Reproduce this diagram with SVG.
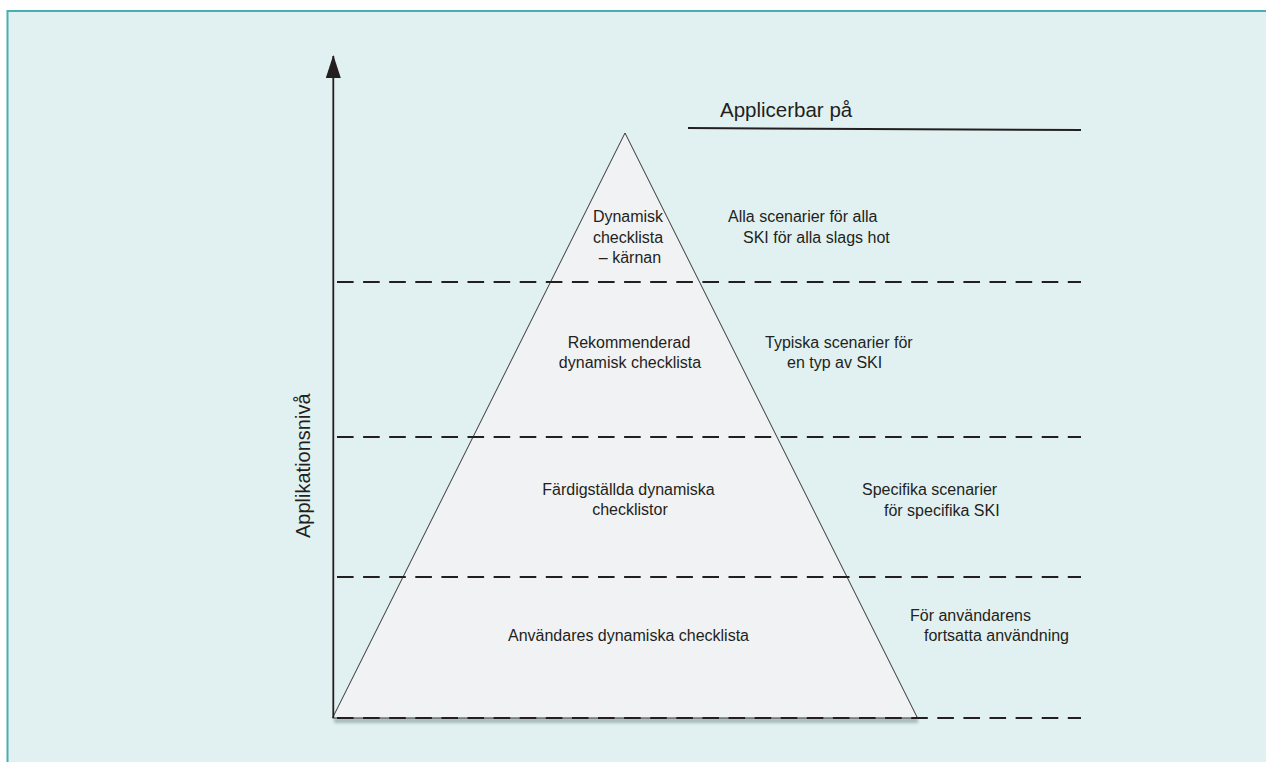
<svg xmlns="http://www.w3.org/2000/svg" width="1266" height="762" viewBox="0 0 1266 762">
  <defs>
    <style>
      .lbl { font-family: "Liberation Sans", Arial, sans-serif; font-size: 16px; fill: #231f20; }
      .mid { text-anchor: middle; }
      .big { font-family: "Liberation Sans", Arial, sans-serif; fill: #231f20; }
      .dash { stroke: #231f20; stroke-width: 2.2; stroke-dasharray: 16.6 9.5; fill: none; }
    </style>
    <!-- arrowhead drawn pointing along +x; orient="auto" turns it with the line -->
    <marker id="arrowhead" viewBox="0 0 24 16" refX="22" refY="8" markerWidth="24" markerHeight="16" markerUnits="userSpaceOnUse" orient="auto">
      <path d="M0 0.5 L23 8 L0 15.5 Z" fill="#231f20"/>
    </marker>
    <filter id="soft" x="-5%" y="-200%" width="110%" height="500%">
      <feGaussianBlur stdDeviation="1.6"/>
    </filter>
  </defs>

  <!-- panel -->
  <rect x="0" y="0" width="1266" height="762" fill="#ffffff"/>
  <rect x="7.5" y="11" width="1300" height="800" fill="#e1f1f1" stroke="#4baeb1" stroke-width="2"/>

  <!-- pyramid -->
  <g id="pyramid">
    <rect x="334" y="718" width="584" height="5" fill="#8fa3a5" opacity="0.7" filter="url(#soft)"/>
    <polygon points="625,133 917.5,718 332.5,718" fill="#f1f2f4" stroke="#231f20" stroke-width="0.9" stroke-linejoin="miter"/>
  </g>

  <!-- axis and level separators -->
  <g id="connectors">
    <line x1="333.3" y1="718" x2="333.3" y2="56" stroke="#231f20" stroke-width="1.8" marker-end="url(#arrowhead)"/>
    <line class="dash" x1="337" y1="282" x2="1081" y2="282"/>
    <line class="dash" x1="337" y1="437" x2="1081" y2="437"/>
    <line class="dash" x1="337" y1="577" x2="1081" y2="577"/>
    <line class="dash" x1="337" y1="718" x2="1081" y2="718"/>
    <line x1="688" y1="128" x2="1081" y2="130" stroke="#231f20" stroke-width="2"/>
  </g>

  <g id="axis-label">
    <text class="big" font-size="20" transform="translate(310,538) rotate(-90)">Applikationsnivå</text>
  </g>

  <g id="header">
    <text class="big" font-size="20.5" x="720" y="117">Applicerbar på</text>
  </g>

  <g id="level-core">
    <text class="lbl mid" x="628" y="222">Dynamisk</text>
    <text class="lbl mid" x="628" y="243">checklista</text>
    <text class="lbl mid" x="630" y="263">– kärnan</text>
    <text class="lbl" x="728" y="222">Alla scenarier för alla</text>
    <text class="lbl" x="743" y="243">SKI för alla slags hot</text>
  </g>

  <g id="level-recommended">
    <text class="lbl mid" x="629" y="348">Rekommenderad</text>
    <text class="lbl mid" x="630" y="368">dynamisk checklista</text>
    <text class="lbl" x="765" y="348">Typiska scenarier för</text>
    <text class="lbl" x="787" y="368">en typ av SKI</text>
  </g>

  <g id="level-finished">
    <text class="lbl mid" x="628.5" y="495">Färdigställda dynamiska</text>
    <text class="lbl mid" x="630" y="515">checklistor</text>
    <text class="lbl" x="862" y="495">Specifika scenarier</text>
    <text class="lbl" x="884" y="516">för specifika SKI</text>
  </g>

  <g id="level-user">
    <text class="lbl mid" x="628.5" y="641">Användares dynamiska checklista</text>
    <text class="lbl" x="910" y="621">För användarens</text>
    <text class="lbl" x="924" y="641">fortsatta användning</text>
  </g>
</svg>
